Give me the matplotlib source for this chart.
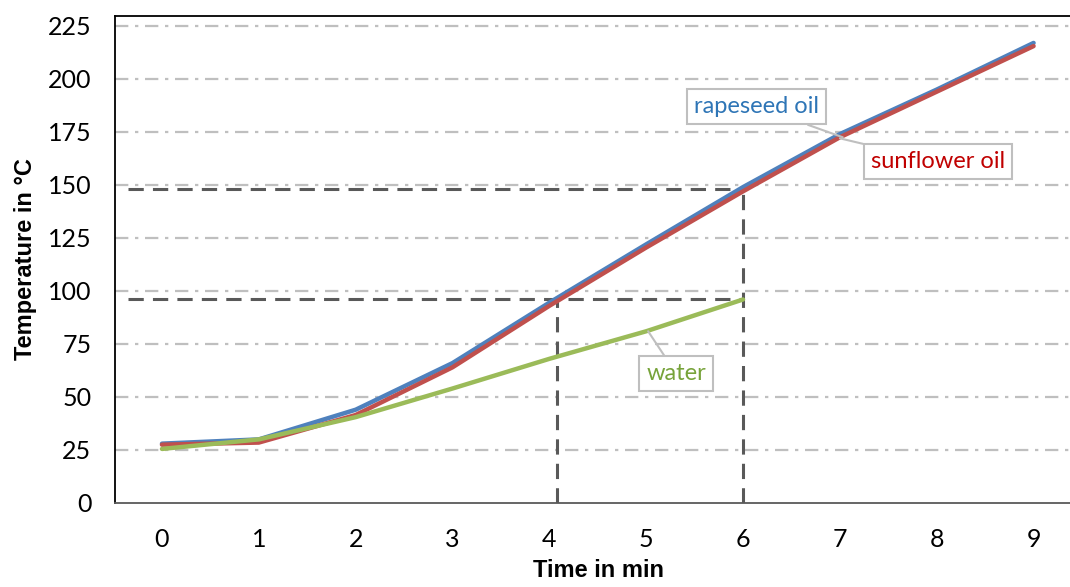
import matplotlib
matplotlib.use("Agg")
import matplotlib.pyplot as plt

# minutes on the x axis
minutes = [0, 1, 2, 3, 4, 5, 6, 7, 8, 9]
water_minutes = [0, 1, 2, 3, 4, 5, 6]

# temperatures in degC
rapeseed = [28, 30, 44, 66, 94.5, 122, 149, 174, 195, 217]
sunflower = [27.5, 28.5, 41.5, 64, 93, 120.5, 147, 172.5, 194, 215.5]
water = [25.5, 30, 40.5, 54, 68, 81, 96]

# helper lines: (time, temperature) corners
mark_hi = (6, 148)
mark_lo = (4.08, 96)

y_ticks = [0, 25, 50, 75, 100, 125, 150, 175, 200, 225]

tick_font = ["Lato", "DejaVu Sans"]
title_font = ["Liberation Sans Narrow", "Liberation Sans", "DejaVu Sans"]

fig = plt.figure(figsize=(10.7, 5.87), dpi=100)
ax = fig.add_axes([115 / 1070, 84 / 587, (1082 - 115) / 1070, (503 - 16) / 587])

ax.set_xlim(-0.485, 9.5)
ax.set_ylim(0, 229.7)

# grid (dash-dot, light grey)
for y in y_ticks[1:]:
    ax.axhline(y, color="#bfbfbf", lw=1.6, ls=(0, (6, 3, 1.5, 3)), zorder=1)

# helper dashed lines
dash_kw = dict(color="#595959", lw=2.2, ls=(0, (5, 3)), zorder=2)
ax.plot([-0.35, mark_hi[0]], [mark_hi[1], mark_hi[1]], **dash_kw)
ax.plot([mark_hi[0], mark_hi[0]], [0, mark_hi[1]], **dash_kw)
ax.plot([-0.35, mark_hi[0]], [mark_lo[1], mark_lo[1]], **dash_kw)
ax.plot([mark_lo[0], mark_lo[0]], [0, mark_lo[1]], **dash_kw)

ax.plot(minutes, rapeseed, color="#4f81bd", lw=3.2, zorder=3, solid_capstyle="round")
ax.plot(minutes, sunflower, color="#c0504d", lw=3.2, zorder=4, solid_capstyle="round")
ax.plot(water_minutes, water, color="#9bbb59", lw=3.2, zorder=5, solid_capstyle="round")

# callout labels
box = dict(boxstyle="square,pad=0.3", fc="white", ec="#bfbfbf", lw=1.5)
arrow = dict(arrowstyle="-", color="#bfbfbf", lw=1.5, shrinkA=0, shrinkB=0)
ax.annotate("rapeseed oil", xy=(7.03, 172.5), xytext=(6.14, 187), color="#2e75b6",
            fontsize=17, family=tick_font, ha="center", va="center", bbox=box,
            arrowprops=arrow, zorder=6)
ax.annotate("sunflower oil", xy=(7.0, 172), xytext=(8.01, 161), color="#c00000",
            fontsize=17, family=tick_font, ha="center", va="center", bbox=box,
            arrowprops=arrow, zorder=6)
ax.annotate("water", xy=(5.02, 81), xytext=(5.31, 61), color="#77a33a",
            fontsize=17, family=tick_font, ha="center", va="center", bbox=box,
            arrowprops=arrow, zorder=6)

ax.set_xticks(minutes)
ax.set_yticks(y_ticks)
ax.tick_params(axis="both", length=0, labelsize=18)
ax.tick_params(axis="y", pad=17)
ax.tick_params(axis="x", pad=18)
for lbl in ax.get_xticklabels() + ax.get_yticklabels():
    lbl.set_family(tick_font)

ax.spines["right"].set_visible(False)
ax.spines["top"].set_color("black")
ax.spines["left"].set_color("black")
ax.spines["bottom"].set_color("#595959")
for s in ("top", "left", "bottom"):
    ax.spines[s].set_linewidth(1.3)

ax.set_xlabel("Time in min", fontsize=17, fontweight="bold", family=title_font, labelpad=6)
ax.set_ylabel("Temperature in °C", fontsize=17, fontweight="bold", family=title_font, labelpad=8)

fig.savefig("out.png", dpi=100)
